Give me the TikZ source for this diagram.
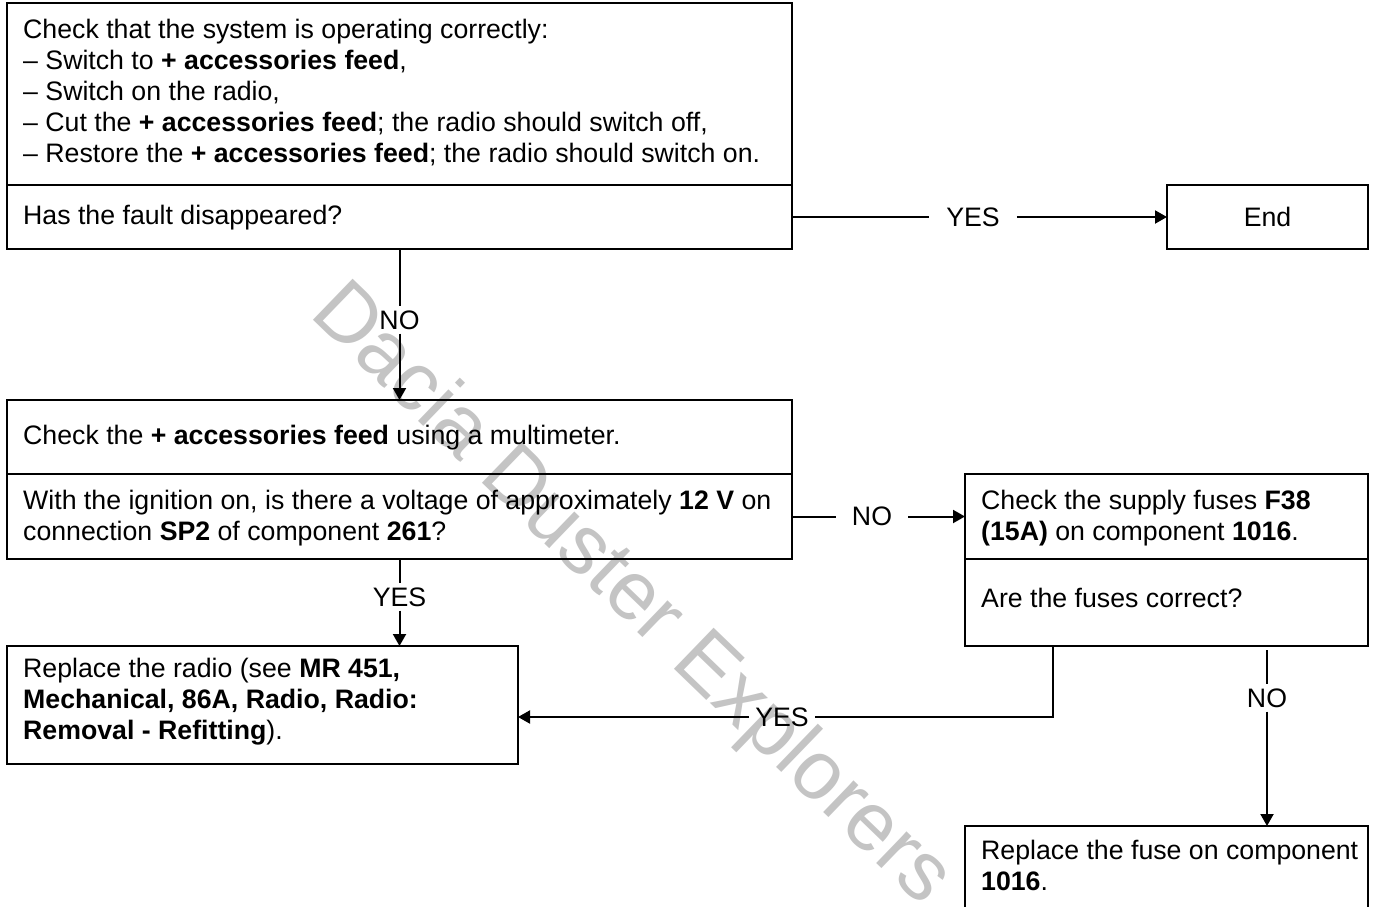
\documentclass[tikz,border=0pt]{standalone}
\usepackage{fontspec}
\setmainfont{Liberation Sans}
\usetikzlibrary{arrows.meta,calc}
\definecolor{wmgray}{RGB}{196,196,196}
\begin{document}
\begin{tikzpicture}[x=1pt,y=-1pt,
  box/.style={draw, line width=2.6pt, inner sep=0pt, outer sep=0pt, anchor=north west},
  txt/.style={anchor=north west, inner sep=0pt, align=left, font=\fontsize{26.7}{31}\selectfont},
  lab/.style={inner sep=0pt, font=\fontsize{26.7}{31}\selectfont},
  hlab/.style={lab, inner ysep=0pt},
  vlab/.style={lab, inner xsep=0pt, inner ysep=4pt},
  conn/.style={line width=2pt},
  arr/.style={line width=2pt, -{Triangle[length=12pt,width=13pt]}},
  wm/.style={text=wmgray, font=\fontsize{83}{83}\selectfont, rotate=-44, inner sep=0pt}
]
\useasboundingbox (0,0) rectangle (1373,907);
\fill[white] (0,0) rectangle (1373,907);
\clip (0,0) rectangle (1373,907);

\node[wm] (wm) at (630,596) {Dacia Duster Explorers};

\node[box, minimum width=785pt, minimum height=182pt] (A1) at (7,3) {};
\node[box, minimum width=785pt, minimum height=64pt] (A2) at (7,185) {};
\node[box, minimum width=201pt, minimum height=64pt] (End) at (1167,185) {};
\node[box, minimum width=785pt, minimum height=74pt] (B1) at (7,400) {};
\node[box, minimum width=785pt, minimum height=85pt] (B2) at (7,474) {};
\node[box, minimum width=511pt, minimum height=118pt] (C) at (7,646) {};
\node[box, minimum width=403pt, minimum height=85pt] (D1) at (965,474) {};
\node[box, minimum width=403pt, minimum height=87pt] (D2) at (965,559) {};
\node[box, minimum width=403pt, minimum height=120pt] (E) at (965,826) {};

\node[txt] (tA1) at (23,18.7) {Check that the system is operating correctly:\\
– Switch to \textbf{+ accessories feed},\\
– Switch on the radio,\\
– Cut the \textbf{+ accessories feed}; the radio should switch off,\\
– Restore the \textbf{+ accessories feed}; the radio should switch on.};
\node[txt] (tA2) at (23,204.7) {Has the fault disappeared?};
\node[lab] (tEnd) at (End.center) {End};
\node[txt] (tB1) at (23,424.7) {Check the \textbf{+ accessories feed} using a multimeter.};
\node[txt] (tB2) at (23,489.7) {With the ignition on, is there a voltage of approximately \textbf{12 V} on\\
connection \textbf{SP2} of component \textbf{261}?};
\node[txt] (tC) at (23,657.7) {Replace the radio (see \textbf{MR 451,}\\
\textbf{Mechanical, 86A, Radio, Radio:}\\
\textbf{Removal - Refitting}).};
\node[txt] (tD1) at (981,489.7) {Check the supply fuses \textbf{F38}\\
\textbf{(15A)} on component \textbf{1016}.};
\node[txt] (tD2) at (981,587.7) {Are the fuses correct?};
\node[txt] (tE) at (981,839.7) {Replace the fuse on component\\
\textbf{1016}.};

% connectors
\node[hlab, inner xsep=17pt] (l1) at (973,217) {YES};
\draw[conn] (A2.east) -- (l1.west);
\draw[arr] (l1.east) -- (End.west);

\node[vlab] (l2) at (399.5,320) {NO};
\draw[conn] (A2.south) -- (l2.north);
\draw[arr] (l2.south) -- (B1.north);

\node[vlab] (l3) at (399.5,597) {YES};
\draw[conn] (B2.south) -- (l3.north);
\draw[arr] (l3.south) -- (C.north -| l3.south);

\node[hlab, inner xsep=16pt] (l4) at (872,516.5) {NO};
\draw[conn] (B2.east) -- (l4.west);
\draw[arr] (l4.east) -- (D1.west);

\coordinate (d2out) at ($(D2.south west)+(88,0)$);
\node[hlab, inner xsep=6pt] (l5) at (782,717) {YES};
\coordinate (cin) at (C.east |- l5.west);
\draw[conn] (d2out) |- (l5.east);
\draw[arr] (l5.west) -- (cin);

\coordinate (d2no) at (1267,650);
\node[vlab] (l6) at (1267,698) {NO};
\draw[conn] (d2no) -- (l6.north);
\draw[arr] (l6.south) -- (E.north -| l6.south);
\end{tikzpicture}
\end{document}
